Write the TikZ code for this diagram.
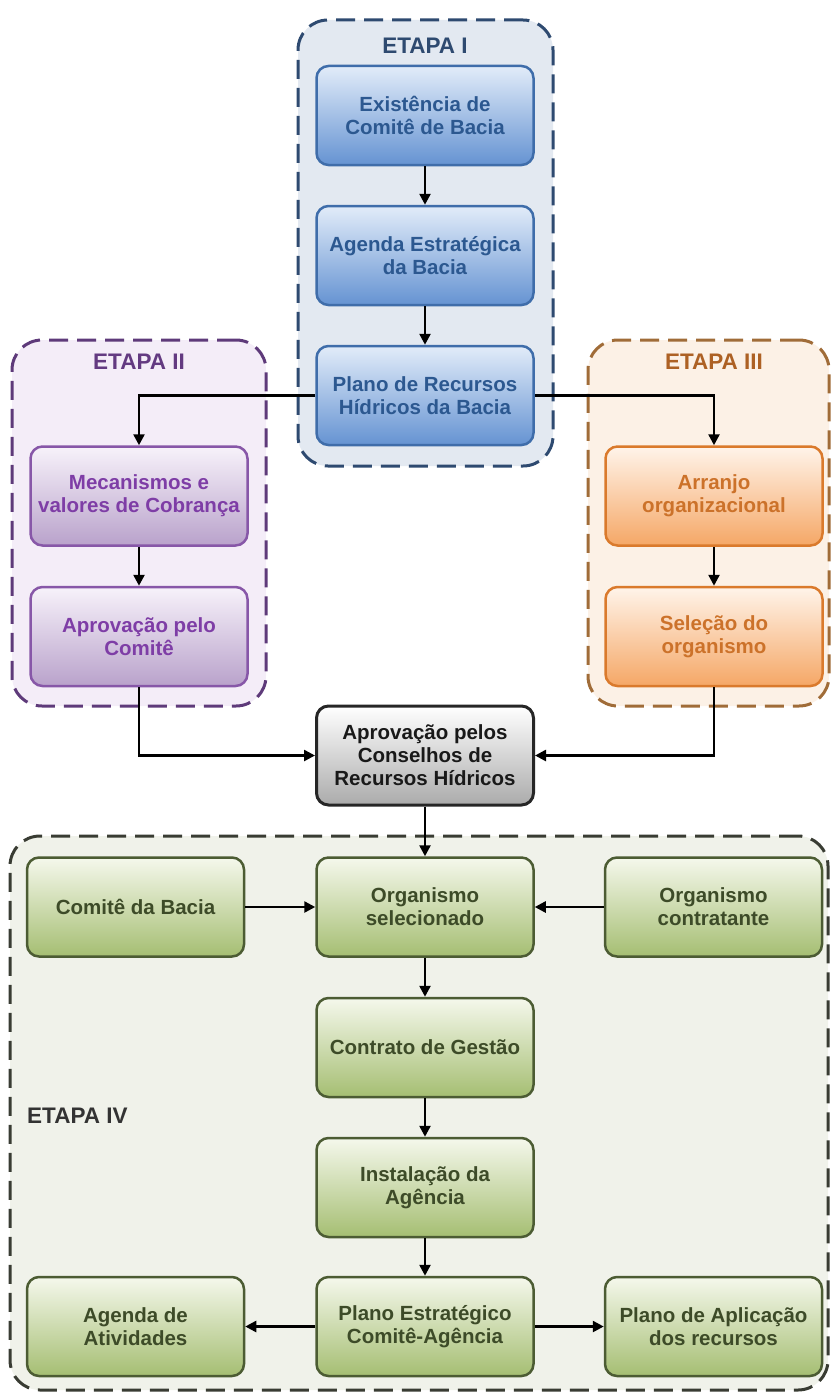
\documentclass[tikz,border=0pt]{standalone}
\usepackage{fontspec}
\setmainfont{Liberation Sans}
\usetikzlibrary{arrows.meta}

% stage palettes
\definecolor{bluefill}{HTML}{E3E9F1}
\definecolor{blueline}{HTML}{2E4A70}
\definecolor{bluetop}{HTML}{E2ECF9}
\definecolor{bluebot}{HTML}{6593D2}
\definecolor{blueedge}{HTML}{3F6DAA}
\definecolor{bluetext}{HTML}{2C5890}

\definecolor{purpfill}{HTML}{F4EDF8}
\definecolor{purpline}{HTML}{5E3A7A}
\definecolor{purptop}{HTML}{F7F2FA}
\definecolor{purpbot}{HTML}{B9A2CB}
\definecolor{purpedge}{HTML}{8757A8}
\definecolor{purptext}{HTML}{7E3DA6}

\definecolor{orgfill}{HTML}{FCF1E6}
\definecolor{orgline}{HTML}{A06C38}
\definecolor{orgtop}{HTML}{FFF4EA}
\definecolor{orgbot}{HTML}{F5A766}
\definecolor{orgedge}{HTML}{DA7A2C}
\definecolor{orgtext}{HTML}{CC722A}

\definecolor{grntop}{HTML}{F5F8EC}
\definecolor{grnbot}{HTML}{A5BE72}
\definecolor{grnedge}{HTML}{4C5C33}
\definecolor{grntext}{HTML}{3D4B28}
\definecolor{grnfill}{HTML}{F0F2EA}
\definecolor{grnline}{HTML}{393C33}

\tikzset{
  every node/.style={font=\bfseries\fontsize{20.5}{23}\selectfont, align=center, inner sep=0pt},
  stagetitle/.style={font=\bfseries\fontsize{22.5}{25}\selectfont},
  stage/.style={rounded corners=30pt, dash pattern=on 19pt off 9pt, line width=3pt},
  card/.style={rounded corners=12pt, line width=2.5pt, minimum width=217pt, minimum height=99pt},
  bluecard/.style={card, draw=blueedge, top color=bluetop, bottom color=bluebot, text=bluetext},
  purpcard/.style={card, draw=purpedge, top color=purptop, bottom color=purpbot, text=purptext},
  orgcard/.style={card, draw=orgedge, top color=orgtop, bottom color=orgbot, text=orgtext},
  graycard/.style={card, line width=3pt, draw=black!85, top color=white, bottom color=black!33, text=black!90},
  grncard/.style={card, draw=grnedge, top color=grntop, bottom color=grnbot, text=grntext},
  link/.style={line width=2.5pt, -{Triangle[length=11pt,width=11pt]}}
}

\begin{document}
\begin{tikzpicture}[x=1pt, y=-1pt]
\useasboundingbox (0,0) rectangle (830,1394);

% stage containers
\node[stage, draw=blueline, fill=bluefill, minimum width=255pt, minimum height=446pt] (s1) at (425.5,243) {};
\node[stage, draw=purpline, fill=purpfill, minimum width=254pt, minimum height=366pt] (s2) at (139,523) {};
\node[stage, draw=orgline, fill=orgfill, minimum width=241pt, minimum height=366pt] (s3) at (708.5,523) {};
\node[stage, draw=grnline, fill=grnfill, minimum width=818pt, minimum height=554pt] (s4) at (419,1113) {};

% stage titles
\node[stagetitle, text=blueline] (t1) at (425,46) {ETAPA I};
\node[stagetitle, text=purpline!85!purptext] (t2) at (139,362) {ETAPA II};
\node[stagetitle, text=orgtext!85!black] (t3) at (714,362) {ETAPA III};
\node[stagetitle, text=black!80, anchor=west] (t4) at (27,1116) {ETAPA IV};

% stage I
\node[bluecard] (b1) at (425,115.5) {Existência de\\Comitê de Bacia};
\node[bluecard] (b2) at (425,255.5) {Agenda Estratégica\\da Bacia};
\node[bluecard] (b3) at (425,395.5) {Plano de Recursos\\Hídricos da Bacia};

% stage II
\node[purpcard] (m1) at (139,496) {Mecanismos e\\valores de Cobrança};
\node[purpcard] (m2) at (139,636.5) {Aprovação pelo\\Comitê};

% stage III
\node[orgcard] (a1) at (714,496) {Arranjo\\organizacional};
\node[orgcard] (a2) at (714,636.5) {Seleção do\\organismo};

% councils
\node[graycard] (cons) at (425,755.5) {Aprovação pelos\\Conselhos de\\Recursos Hídricos};

% stage IV
\node[grncard] (g1) at (135.5,907) {Comitê da Bacia};
\node[grncard] (g2) at (425,907) {Organismo\\selecionado};
\node[grncard] (g3) at (713.5,907) {Organismo\\contratante};
\node[grncard] (g4) at (425,1047.5) {Contrato de Gestão};
\node[grncard] (g5) at (425,1187.5) {Instalação da\\Agência};
\node[grncard] (g7) at (135.5,1326.5) {Agenda de\\Atividades};
\node[grncard] (g8) at (425,1326.5) {Plano Estratégico\\Comitê-Agência};
\node[grncard] (g9) at (713.5,1326.5) {Plano de Aplicação\\dos recursos};

% connectors
\draw[link] (b1) -- (b2);
\draw[link] (b2) -- (b3);
\draw[link] (b3.west) -| (m1.north);
\draw[link] (b3.east) -| (a1.north);
\draw[link] (m1) -- (m2);
\draw[link] (a1) -- (a2);
\draw[link] (m2.south) |- (cons.west);
\draw[link] (a2.south) |- (cons.east);
\draw[link] (cons) -- (g2);
\draw[link] (g1) -- (g2);
\draw[link] (g3) -- (g2);
\draw[link] (g2) -- (g4);
\draw[link] (g4) -- (g5);
\draw[link] (g5) -- (g8);
\draw[link] (g8) -- (g7);
\draw[link] (g8) -- (g9);
\end{tikzpicture}
\end{document}
